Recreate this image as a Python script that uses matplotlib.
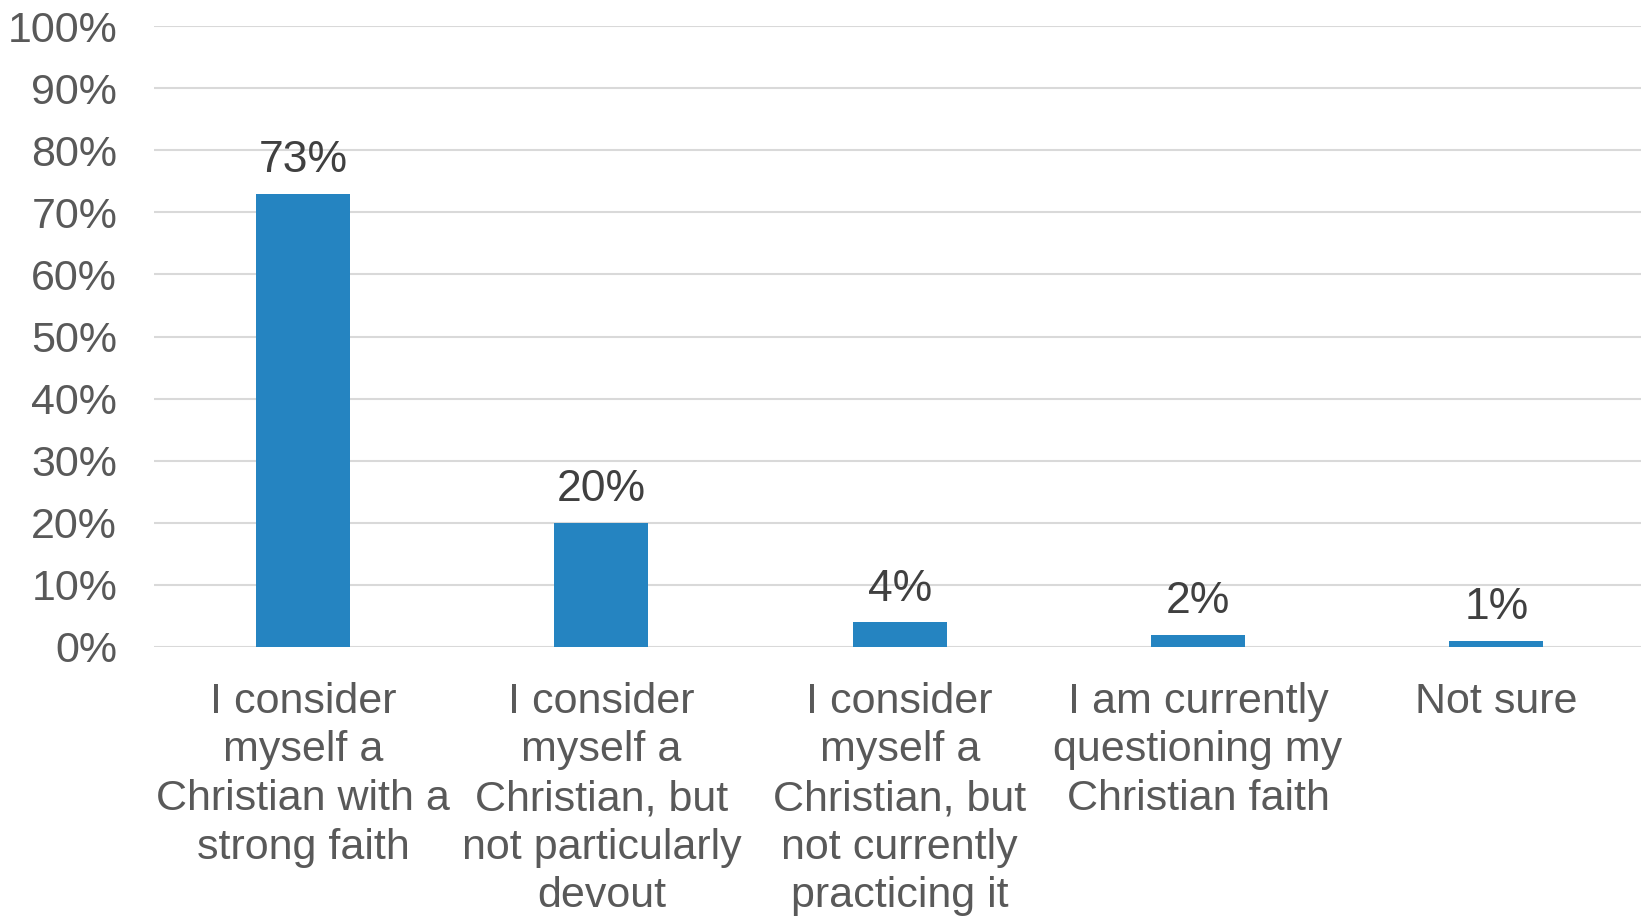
import matplotlib
matplotlib.use("Agg")
import matplotlib.pyplot as plt
from matplotlib.ticker import PercentFormatter

categories = [
    "I consider\nmyself a\nChristian with a\nstrong faith",
    "I consider\nmyself a\nChristian, but\nnot particularly\ndevout",
    "I consider\nmyself a\nChristian, but\nnot currently\npracticing it",
    "I am currently\nquestioning my\nChristian faith",
    "Not sure",
]
values = [73, 20, 4, 2, 1]
yticks = [0, 10, 20, 30, 40, 50, 60, 70, 80, 90, 100]

plt.rcParams['font.family'] = ['Liberation Sans', 'DejaVu Sans']

W, H = 1641, 916
fig = plt.figure(figsize=(W / 100, H / 100), dpi=100)
left, right, top, bottom = 154, 1641, 26, 647
ax = fig.add_axes([left / W, 1 - bottom / H, (right - left) / W, (bottom - top) / H])

x = list(range(len(values)))
bars = ax.bar(x, values, width=0.315, color="#2584C1", zorder=3)

ax.set_ylim(0, 100)
ax.set_xlim(-0.5, 4.485)
ax.set_yticks(yticks)
ax.yaxis.set_major_formatter(PercentFormatter(decimals=0))
ax.grid(axis='y', color='#D9D9D9', linewidth=1.5, zorder=0)
ax.set_axisbelow(True)
for s in ax.spines.values():
    s.set_visible(False)

ax.tick_params(axis='y', length=0, pad=26.5, labelsize=31, labelcolor='#595959')
ax.tick_params(axis='x', length=0, pad=25, labelsize=31, labelcolor='#595959')
ax.set_xticks(x)
ax.set_xticklabels(categories, linespacing=1.28, ha='center', va='top')

for xi, v in zip(x, values):
    ax.annotate(f"{v}%", (xi, v), xytext=(0, 9), textcoords='offset points',
                ha='center', va='bottom', fontsize=32, color='#404040')

fig.savefig("out.png", dpi=100)
